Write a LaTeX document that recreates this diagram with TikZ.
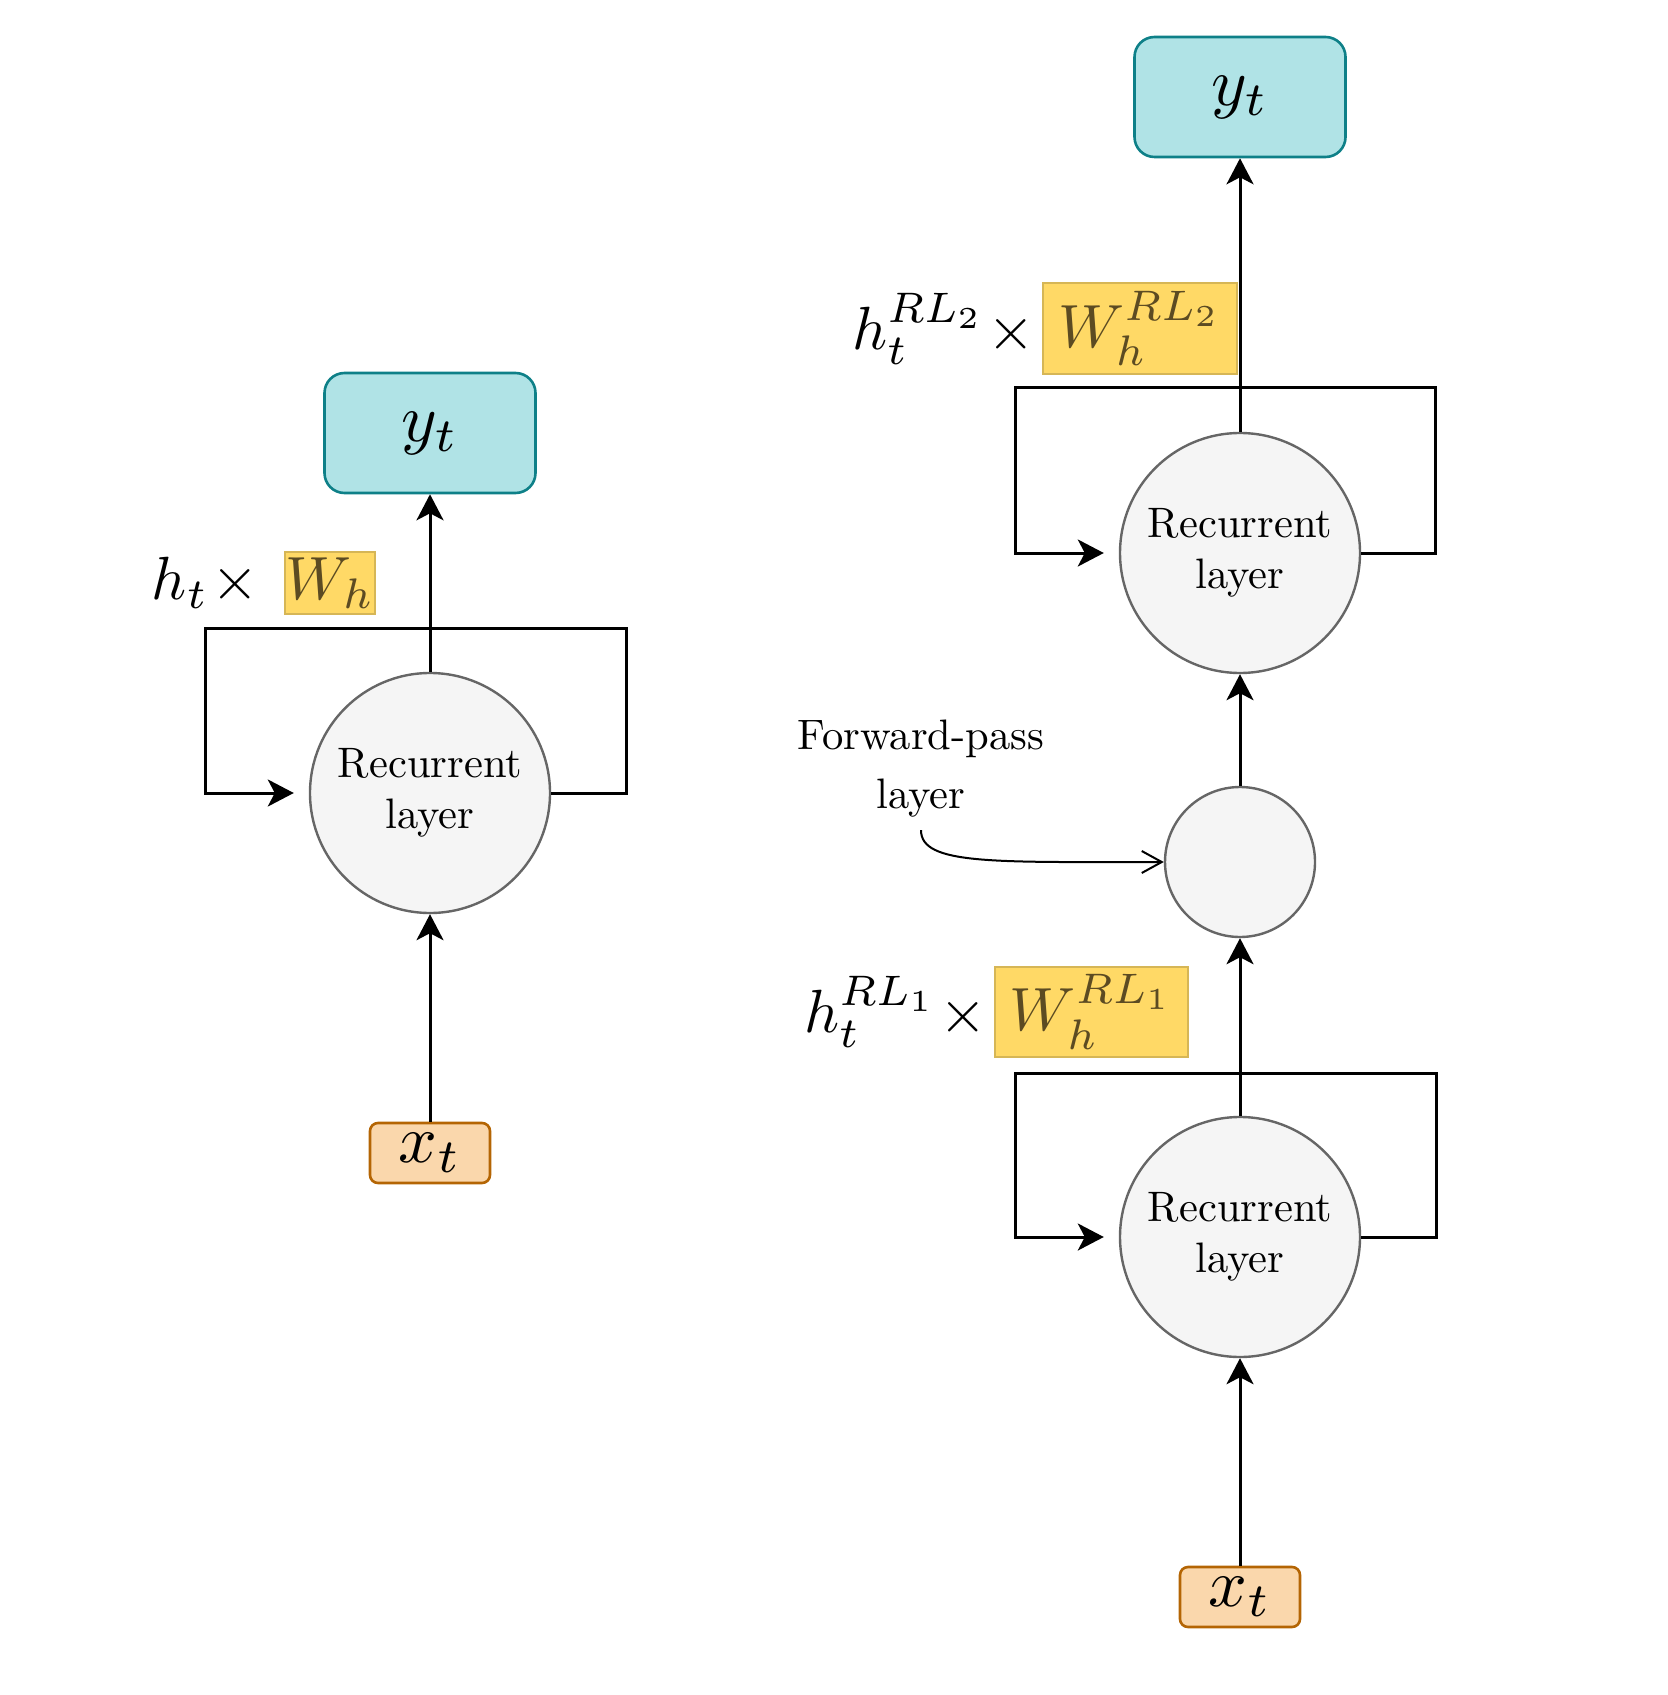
\documentclass[tikz,border=0pt]{standalone}
\usepackage{amsmath}
\usepackage{graphicx}
\usetikzlibrary{arrows.meta}

\definecolor{outfill}{HTML}{B0E3E6}
\definecolor{outline}{HTML}{0E8088}
\definecolor{infill}{HTML}{FAD7AC}
\definecolor{inline}{HTML}{B46504}
\definecolor{wfill}{HTML}{FFD966}
\definecolor{wline}{HTML}{D6B656}
\definecolor{wtext}{HTML}{5C4B22}
\definecolor{layfill}{HTML}{F5F5F5}
\definecolor{layline}{HTML}{666666}

% 10pt fonts blown up, as in the drawing
\newcommand{\bigmath}[1]{\scalebox{3.4}{$#1$}}
\newcommand{\midmath}[1]{\scalebox{3.05}{$#1$}}
\newcommand{\bigtext}[2][1]{\scalebox{2.13}{\renewcommand{\arraystretch}{#1}\begin{tabular}{@{}c@{}}#2\end{tabular}}}

\begin{document}
\begin{tikzpicture}[x=0.5pt,y=-0.5pt]
  \tikzstyle{every node}+=[inner sep=0pt]
  \tikzstyle{outbox}=[draw=outline, fill=outfill, line width=1.3pt, rounded corners=10pt, minimum width=105.5pt, minimum height=60pt]
  \tikzstyle{inbox}=[draw=inline, fill=infill, line width=1.3pt, rounded corners=4pt, minimum width=60pt, minimum height=30pt]
  \tikzstyle{wbox}=[draw=wline, fill=wfill, line width=1.2pt, text=wtext]
  \tikzstyle{layer}=[circle, draw=layline, fill=layfill, line width=1.2pt, minimum size=120pt]
  \tikzstyle{hlabel}=[anchor=east]
  \tikzstyle{arr}=[line width=1.5pt, -{Stealth[length=13pt, width=13.5pt, inset=3.5pt]}]
  \useasboundingbox (0,0) rectangle (1668,1695);

  % single recurrent layer
  \draw (430,433) node[outbox] (y1) {\bigmath{y_t}};
  \draw (430,793) node[layer] (r1) {\bigtext{Recurrent\\layer}};
  \draw (430,1153) node[inbox] (x1) {\bigmath{x_t}};
  \draw (330,583) node[wbox, minimum width=45pt, minimum height=31pt] (w1) {\midmath{W_h}};
  \draw ([xshift=-12pt]w1.west) node[hlabel] (h1) {\midmath{h_t\mkern1mu\times}};
  \draw[arr] (x1) -- (r1);
  \draw[arr] (r1) -- (y1);
  \draw[arr] (r1.east) -- (626,793) |- (205,628) |- ([xshift=-7.5pt]r1.west);

  % two stacked recurrent layers
  \draw (1240,97) node[outbox] (y2) {\bigmath{y_t}};
  \draw (1240,553) node[layer] (r3) {\bigtext{Recurrent\\layer}};
  \draw (1240,862) node[layer, minimum size=75pt] (fp) {};
  \draw (1240,1237) node[layer] (r2) {\bigtext{Recurrent\\layer}};
  \draw (1240,1597) node[inbox] (x2) {\bigmath{x_t}};
  \draw (1140,328.5) node[wbox, minimum width=97pt, minimum height=45.5pt] (w3) {\midmath{W_h^{RL_2}}};
  \draw ([xshift=-3pt]w3.west) node[hlabel] (h3) {\midmath{h_t^{RL_2}\mkern1mu\times}};
  \draw (1091.5,1012) node[wbox, minimum width=96.5pt, minimum height=45pt] (w2) {\midmath{W_h^{RL_1}}};
  \draw ([xshift=-3pt]w2.west) node[hlabel] (h2) {\midmath{h_t^{RL_1}\mkern1mu\times}};
  \draw (921,767) node (fpl) {\bigtext[1.15]{Forward-pass\\layer}};
  \draw[arr] (x2) -- (r2);
  \draw[arr] (r2) -- (fp);
  \draw[arr] (fp) -- (r3);
  \draw[arr] (r3) -- (y2);
  \draw[arr] (r2.east) -- (1436,1237) |- (1015,1073) |- ([xshift=-7.5pt]r2.west);
  \draw[arr] (r3.east) -- (1435,553) |- (1015,388) |- ([xshift=-7.5pt]r3.west);
  \draw[line width=1pt, -{Straight Barb[length=10pt, width=11pt]}] ([yshift=-2pt]fpl.south) .. controls +(0,35) and +(-170,0) .. (fp.west);
\end{tikzpicture}
\end{document}
